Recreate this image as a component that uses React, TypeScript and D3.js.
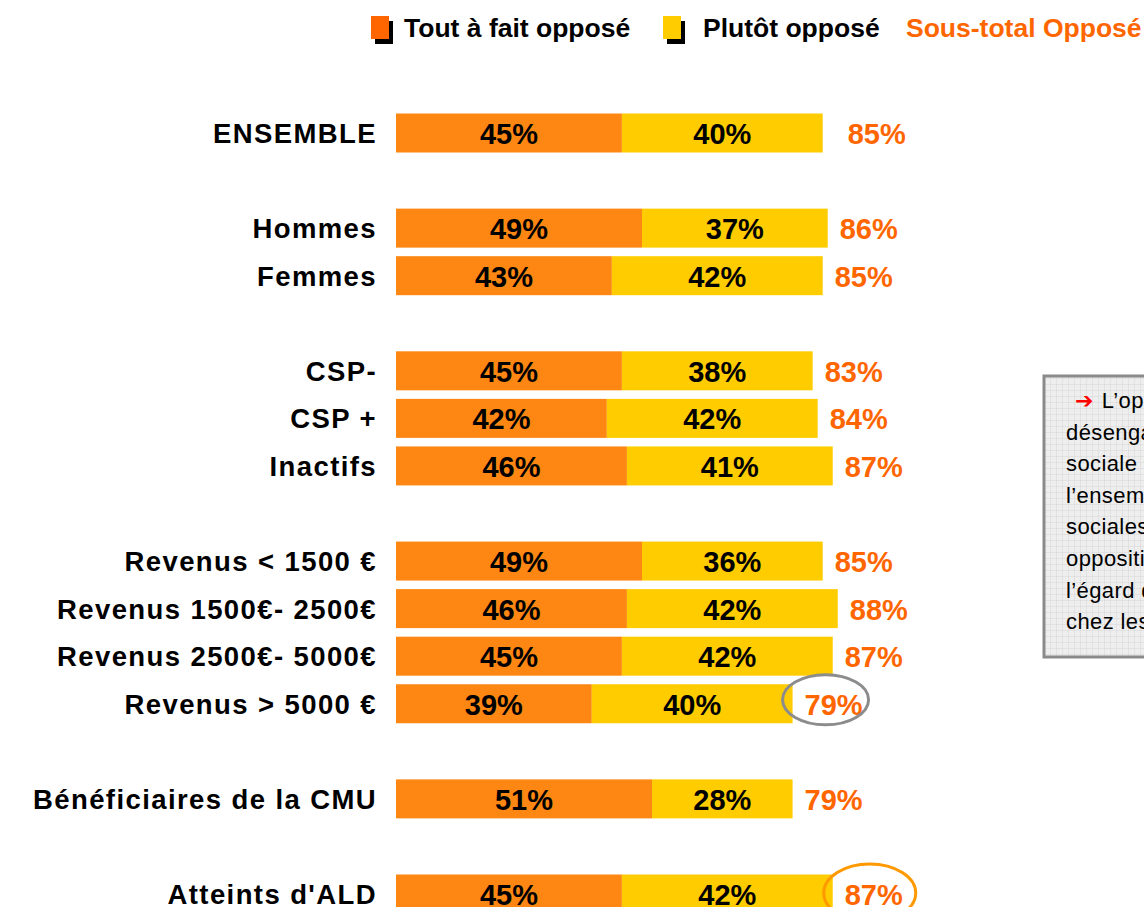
import * as d3 from "d3";
import React from "react";

const categories = [
  "ENSEMBLE",
  "Hommes",
  "Femmes",
  "CSP-",
  "CSP +",
  "Inactifs",
  "Revenus < 1500 €",
  "Revenus 1500€- 2500€",
  "Revenus 2500€- 5000€",
  "Revenus > 5000 €",
  "Bénéficiaires de la CMU",
  "Atteints d'ALD",
];
// row slot of each category (empty slots are the gaps between groups)
const slots = [0, 2, 3, 5, 6, 7, 9, 10, 11, 12, 14, 16];
const toutAFait = [45, 49, 43, 45, 42, 46, 49, 46, 45, 39, 51, 45];
const plutot = [40, 37, 42, 38, 42, 41, 36, 42, 42, 40, 28, 42];
const sousTotal = [85, 86, 85, 83, 84, 87, 85, 88, 87, 79, 79, 87];

const legendItems = ["Tout à fait opposé", "Plutôt opposé", "Sous-total Opposé"];
const noteLines = [
  "L’opposition au",
  "désengagement de la Sécurité",
  "sociale est majoritaire dans",
  "l’ensemble des catégories",
  "sociales, même si cette",
  "opposition est moins forte à",
  "l’égard de la mesure",
  "chez les plus aisés.",
];

const W = 1144;
const H = 907;
const ORANGE = "#FD8712";
const YELLOW = "#FFCC00";
const TOTAL = "#FF6600";

export default function App() {
  const x = d3.scaleLinear().domain([0, 100]).range([396, 898]);
  const y = d3.scaleLinear().domain([0, 16]).range([133, 894]);
  const barH = 39;
  const font = "'Liberation Sans', Arial, sans-serif";

  return (
    <svg
      width={W}
      height={H}
      style={{ position: "absolute", left: 0, top: 0, background: "#fff" }}
      fontFamily={font}
    >
      <defs>
        <pattern id="grid" width="6" height="6" patternUnits="userSpaceOnUse">
          <rect width="6" height="6" fill="#eeeeee" />
          <path d="M6 0 L0 0 0 6" fill="none" stroke="#d6d6d6" strokeWidth="1" />
        </pattern>
      </defs>

      {/* legend */}
      <g fontSize={26.5} fontWeight="bold">
        <rect x={375} y={21} width={18} height={23} fill="#000" />
        <rect x={371} y={16} width={18} height={23} fill="#FF6600" />
        <text x={404} y={37} fill="#000">{legendItems[0]}</text>
        <rect x={667} y={21} width={18} height={23} fill="#000" />
        <rect x={663} y={16} width={18} height={23} fill={YELLOW} />
        <text x={703} y={37} fill="#000">{legendItems[1]}</text>
        <text x={906} y={37} fill={TOTAL}>{legendItems[2]}</text>
      </g>

      {categories.map((c, i) => {
        const cy = y(slots[i]);
        const x0 = x(0);
        const x1 = x(toutAFait[i]);
        const x2 = x(toutAFait[i] + plutot[i]);
        const tx = x2 + (i === 0 ? 25 : 12);
        return (
          <g key={c}>
            <text
              x={377}
              y={cy + 10}
              textAnchor="end"
              fontSize={27.5}
              fontWeight="bold"
              letterSpacing={1.4}
              fill="#000"
            >
              {c}
            </text>
            <rect x={x0} y={cy - barH / 2} width={x1 - x0} height={barH} fill={ORANGE} />
            <rect x={x1} y={cy - barH / 2} width={x2 - x1} height={barH} fill={YELLOW} />
            <text x={(x0 + x1) / 2} y={cy + 11} textAnchor="middle" fontSize={29} fontWeight="bold" fill="#000">
              {toutAFait[i]}%
            </text>
            <text x={(x1 + x2) / 2} y={cy + 11} textAnchor="middle" fontSize={29} fontWeight="bold" fill="#000">
              {plutot[i]}%
            </text>
            <text x={tx} y={cy + 11} fontSize={29} fontWeight="bold" fill={TOTAL}>
              {sousTotal[i]}%
            </text>
            {i === 9 && (
              <ellipse cx={tx + 21} cy={cy - 4} rx={43} ry={25} fill="none" stroke="#8C8C8C" strokeWidth={3} />
            )}
            {i === categories.length - 1 && (
              <ellipse cx={tx + 25} cy={cy - 1} rx={46} ry={29} fill="none" stroke="#FF9900" strokeWidth={3} />
            )}
          </g>
        );
      })}

      {/* comment box */}
      <rect x={1044} y={376} width={200} height={281} fill="url(#grid)" stroke="#8a8a8a" strokeWidth={3} />
      {noteLines.map((l, i) => (
        <text key={i} x={1066} y={408 + i * 31.6} fontSize={22} letterSpacing={0.4} fill="#000">
          {i === 0 ? (
            <>
              <tspan dx={9} fill="#FF0000" fontFamily="'DejaVu Sans', sans-serif" fontWeight="bold" fontSize={22}>➔</tspan>
              <tspan dx={8}>{l}</tspan>
            </>
          ) : (
            l
          )}
        </text>
      ))}
    </svg>
  );
}
